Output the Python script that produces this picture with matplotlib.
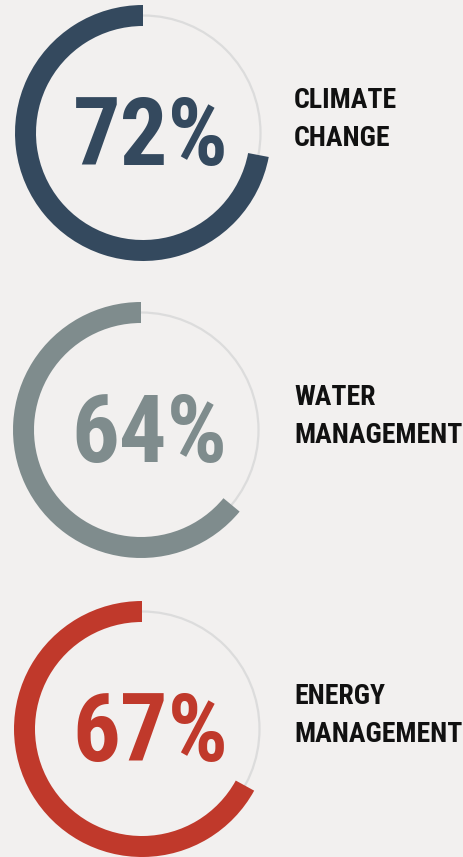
import matplotlib.pyplot as plt
from matplotlib import font_manager

labels = ['CLIMATE\nCHANGE', 'WATER\nMANAGEMENT', 'ENERGY\nMANAGEMENT']
percents = [72, 64, 67]
colors = ['#34495e', '#7f8c8d', '#c0392b']

W, H = 463, 857
bg = '#f2f0ef'

names = {f.name for f in font_manager.fontManager.ttflist}
cond = [n for n in ['Roboto Condensed', 'Liberation Sans Narrow', 'DejaVu Sans Condensed'] if n in names]
family = cond + ['Roboto', 'DejaVu Sans']

fig = plt.figure(figsize=(W / 100, H / 100), dpi=100, facecolor=bg)
ax = fig.add_axes([0, 0, 1, 1])
ax.set_facecolor(bg)

# ring centres in pixel space (y measured from the top)
centres = [(143, 133), (141, 430), (142, 729)]
r_out, band = 128, 21

for (cx, cy), pct, col, lab in zip(centres, percents, colors, labels):
    y = H - cy
    track = plt.Circle((cx, y), r_out - band / 2, fill=False, color='#dcdcdc', lw=1.6)
    ax.add_patch(track)
    ax.pie([pct, 100 - pct], colors=[col, 'none'], startangle=90, counterclock=True,
           radius=r_out, center=(cx, y), wedgeprops=dict(width=band, linewidth=0))
    ax.text(cx + 8, y - 32, f'{pct}%', color=col, fontsize=68, family=family,
            fontweight='bold', ha='center', va='baseline')
    # two label lines, baselines ~38px apart
    for i, line in enumerate(lab.split('\n')):
        ax.text(294, y + 25 - 38 * i, line, color='#111111', fontsize=20, family=family,
                fontweight='bold', ha='left', va='baseline')

ax.set_xlim(0, W)
ax.set_ylim(0, H)
ax.set_aspect('equal')
ax.axis('off')

fig.savefig('out.png', dpi=100, facecolor=bg)
